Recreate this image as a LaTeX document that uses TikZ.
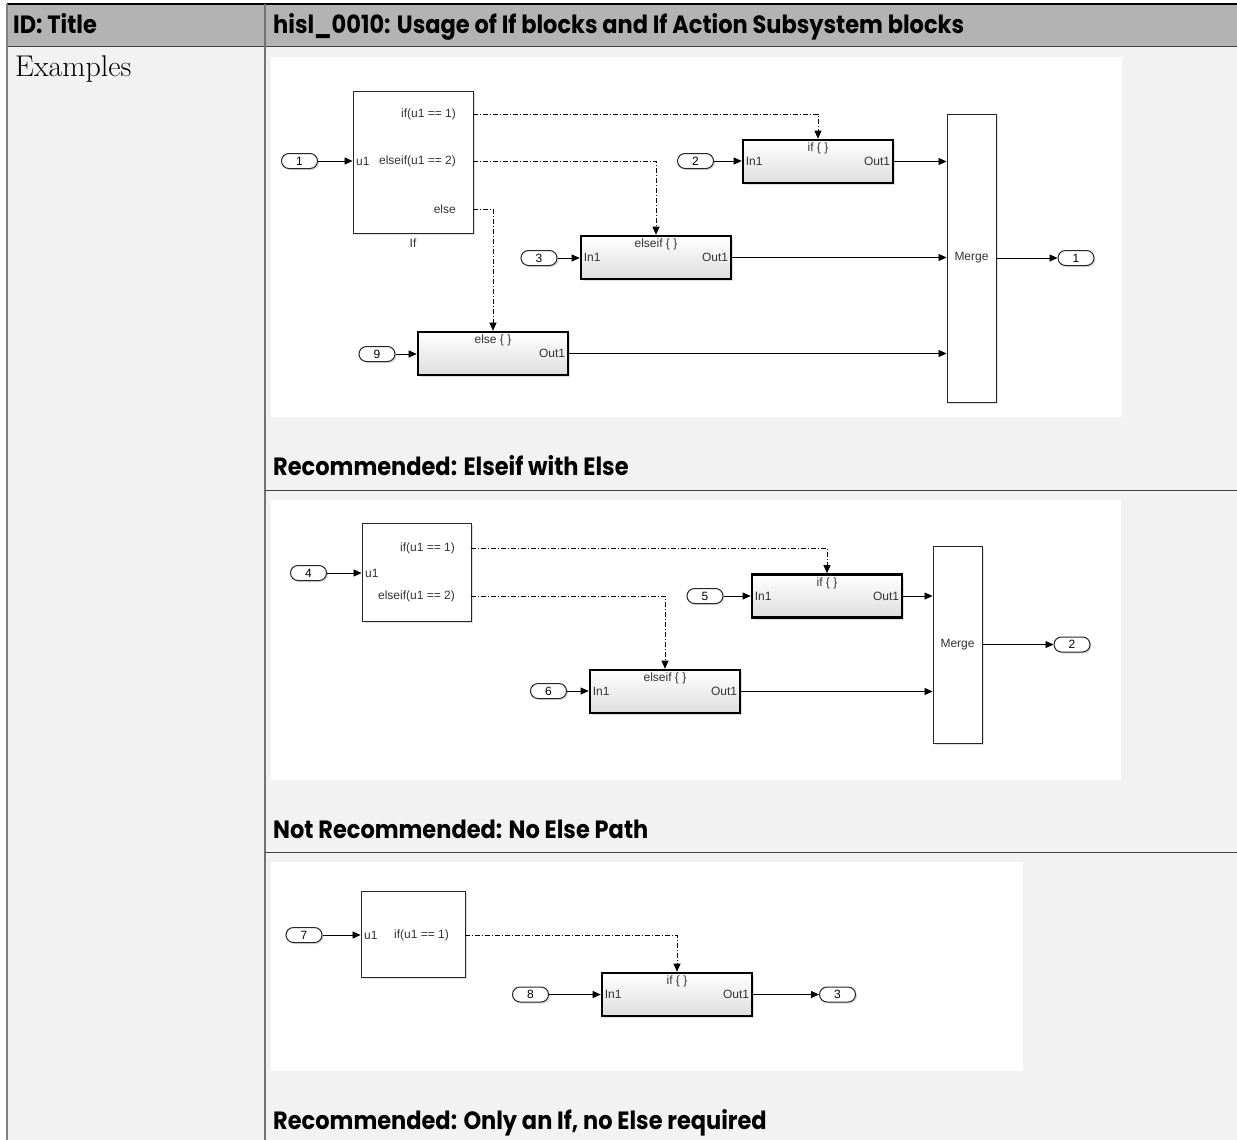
\documentclass[tikz,border=0pt]{standalone}
\usepackage{fontspec}
\usetikzlibrary{arrows.meta,shadows,positioning}
\newfontfamily\blkfont{Liberation Sans}
\newfontfamily\headfont{Poppins}
\definecolor{hdrgray}{HTML}{B3B3B3}
\definecolor{cellgray}{HTML}{F2F2F2}
\definecolor{lblgray}{HTML}{333333}
\newcommand{\capfit}[1]{\scalebox{0.9}[1]{#1}}

\tikzset{
  shade/.style={drop shadow={shadow xshift=2pt, shadow yshift=-2pt, opacity=0.25}},
  blk/.style={draw=black!85, line width=0.9pt, fill=white, inner sep=0pt, shade},
  subsys/.style={draw=black, line width=2.6pt, top color=white, bottom color=black!13,
    inner sep=0pt, minimum width=150pt, minimum height=43pt, shade},
  portoval/.style={draw=black!85, line width=1pt, rounded corners=7.5pt, fill=white,
    minimum width=36pt, minimum height=15pt, inner sep=0pt,
    font=\blkfont\fontsize{12}{13}\selectfont,
    drop shadow={shadow xshift=1.5pt, shadow yshift=-1.5pt, opacity=0.3}},
  lbl/.style={font=\blkfont\fontsize{12}{13}\selectfont, text=lblgray, inner sep=1pt},
  sig/.style={line width=0.8pt, -{Triangle[length=8pt,width=7pt]}},
  act/.style={line width=0.8pt, dash pattern=on 5pt off 2pt on 1pt off 2pt,
    -{Triangle[length=8pt,width=7pt]}},
  caption/.style={font=\headfont\bfseries\fontsize{25}{28}\selectfont, anchor=base west, inner sep=0pt},
}

\begin{document}
\begin{tikzpicture}[x=1pt,y=-1pt]
  \useasboundingbox (0,0) rectangle (1237,1140);
  % table
  \fill[cellgray] (7,4) rectangle (1237,1140);
  \fill[hdrgray] (7,4) rectangle (1237,47);
  \fill[white] (271,57) rectangle (1122,417);
  \fill[white] (271,500) rectangle (1121,780);
  \fill[white] (271,862) rectangle (1023,1071);
  \draw[line width=1.5pt] (7,4) -- (1237,4);
  \draw[line width=1pt, black!75] (7,47) -- (1237,47);
  \draw[line width=1.5pt, black!50] (7,4) -- (7,1140);
  \draw[line width=1.2pt, black!55] (265,4) -- (265,1140);
  \draw[line width=1pt, black!75] (265,490) -- (1237,490);
  \draw[line width=1pt, black!75] (265,852) -- (1237,852);

  \node[caption] (hdrId) at (13,34) {\capfit{ID: Title}};
  \node[caption] (hdrTitle) at (273,34)
    {\capfit{hisl\_0010: Usage of If blocks and If Action Subsystem blocks}};
  \node[font=\fontsize{30}{34}\selectfont, anchor=base west, inner sep=0pt] (examples) at (15,77) {Examples};

  % ---- Recommended: Elseif with Else
  \node[blk, minimum width=120pt, minimum height=142pt] (ifA) at (413,162) {};
  \node[lbl, anchor=east] (ifA-c1) at (457,114) {if(u1 == 1)};
  \node[lbl, anchor=east] (ifA-c2) at (457,161) {elseif(u1 == 2)};
  \node[lbl, anchor=east] (ifA-c3) at (457,209) {else};
  \node[lbl, anchor=west] (ifA-u1) at (355,161) {u1};
  \node[lbl] (ifA-name) at (413,243) {If};

  \node[subsys] (sysA1) at (818,161.5) {};
  \node[subsys] (sysA2) at (656,257.5) {};
  \node[subsys] (sysA3) at (493,353.5) {};
  \node[lbl] (sysA1-t) at ([yshift=-10pt]sysA1.north) {if \{ \}};
  \node[lbl, anchor=west] (sysA1-in) at ([xshift=3pt]sysA1.west) {In1};
  \node[lbl, anchor=east] (sysA1-out) at ([xshift=-3pt]sysA1.east) {Out1};
  \node[lbl] (sysA2-t) at ([yshift=-10pt]sysA2.north) {elseif \{ \}};
  \node[lbl, anchor=west] (sysA2-in) at ([xshift=3pt]sysA2.west) {In1};
  \node[lbl, anchor=east] (sysA2-out) at ([xshift=-3pt]sysA2.east) {Out1};
  \node[lbl] (sysA3-t) at ([yshift=-10pt]sysA3.north) {else \{ \}};
  \node[lbl, anchor=east] (sysA3-out) at ([xshift=-3pt]sysA3.east) {Out1};

  \node[blk, minimum width=49pt, minimum height=288pt] (mergeA) at (971.5,258) {};
  \node[lbl] (mergeA-t) at (mergeA) {Merge};

  \node[portoval] (in1) at (299.5,161) {1};
  \node[portoval] (in2) at (695.5,161) {2};
  \node[portoval] (in3) at (539,258) {3};
  \node[portoval] (in9) at (377,354) {9};
  \node[portoval] (out1) at (1076,258) {1};

  \draw[sig] (in1) -- (in1 -| ifA.west);
  \draw[sig] (in2) -- (in2 -| sysA1.west);
  \draw[sig] (in3) -- (in3 -| sysA2.west);
  \draw[sig] (in9) -- (in9 -| sysA3.west);
  \draw[sig] (sysA1.east) -- (sysA1.east -| mergeA.west);
  \draw[sig] (sysA2.east) -- (sysA2.east -| mergeA.west);
  \draw[sig] (sysA3.east) -- (sysA3.east -| mergeA.west);
  \draw[sig] (mergeA.east) -- (out1);
  \draw[act] (ifA.east |- ifA-c1) -| (sysA1.north);
  \draw[act] (ifA.east |- ifA-c2) -| (sysA2.north);
  \draw[act] (ifA.east |- ifA-c3) -| (sysA3.north);

  \node[caption] (capA) at (273,475) {\capfit{Recommended: Elseif with Else}};

  % ---- Not Recommended: No Else Path
  \node[blk, minimum width=109pt, minimum height=98pt] (ifB) at (416.5,572) {};
  \node[lbl, anchor=east] (ifB-c1) at (456,548) {if(u1 == 1)};
  \node[lbl, anchor=east] (ifB-c2) at (456,596) {elseif(u1 == 2)};
  \node[lbl, anchor=west] (ifB-u1) at (364,573) {u1};

  \node[subsys] (sysB1) at (827,596) {};
  \node[subsys] (sysB2) at (665,691.5) {};
  \node[lbl] (sysB1-t) at ([yshift=-10pt]sysB1.north) {if \{ \}};
  \node[lbl, anchor=west] (sysB1-in) at ([xshift=3pt]sysB1.west) {In1};
  \node[lbl, anchor=east] (sysB1-out) at ([xshift=-3pt]sysB1.east) {Out1};
  \node[lbl] (sysB2-t) at ([yshift=-10pt]sysB2.north) {elseif \{ \}};
  \node[lbl, anchor=west] (sysB2-in) at ([xshift=3pt]sysB2.west) {In1};
  \node[lbl, anchor=east] (sysB2-out) at ([xshift=-3pt]sysB2.east) {Out1};

  \node[blk, minimum width=49pt, minimum height=197pt] (mergeB) at (957.5,644.5) {};
  \node[lbl] (mergeB-t) at (mergeB) {Merge};

  \node[portoval] (in4) at (308.5,573) {4};
  \node[portoval] (in5) at (705,596) {5};
  \node[portoval] (in6) at (548.5,691) {6};
  \node[portoval] (out2) at (1072,644.5) {2};

  \draw[sig] (in4) -- (in4 -| ifB.west);
  \draw[sig] (in5) -- (in5 -| sysB1.west);
  \draw[sig] (in6) -- (in6 -| sysB2.west);
  \draw[sig] (sysB1.east) -- (sysB1.east -| mergeB.west);
  \draw[sig] (sysB2.east) -- (sysB2.east -| mergeB.west);
  \draw[sig] (mergeB.east) -- (out2);
  \draw[act] (ifB.east |- ifB-c1) -| (sysB1.north);
  \draw[act] (ifB.east |- ifB-c2) -| (sysB2.north);

  \node[caption] (capB) at (273,838) {\capfit{Not Recommended: No Else Path}};

  % ---- Recommended: Only an If
  \node[blk, minimum width=104pt, minimum height=86pt] (ifC) at (413,934) {};
  \node[lbl, anchor=east] (ifC-c1) at (450,935) {if(u1 == 1)};
  \node[lbl, anchor=west] (ifC-u1) at (363,935) {u1};

  \node[subsys] (sysC1) at (677,994.5) {};
  \node[lbl] (sysC1-t) at ([yshift=-10pt]sysC1.north) {if \{ \}};
  \node[lbl, anchor=west] (sysC1-in) at ([xshift=3pt]sysC1.west) {In1};
  \node[lbl, anchor=east] (sysC1-out) at ([xshift=-3pt]sysC1.east) {Out1};

  \node[portoval] (in7) at (304,935) {7};
  \node[portoval] (in8) at (530.5,994.5) {8};
  \node[portoval] (out3) at (837.5,994.5) {3};

  \draw[sig] (in7) -- (in7 -| ifC.west);
  \draw[sig] (in8) -- (in8 -| sysC1.west);
  \draw[sig] (sysC1.east) -- (out3);
  \draw[act] (ifC.east |- ifC-c1) -| (sysC1.north);

  \node[caption] (capC) at (273,1129) {\capfit{Recommended: Only an If, no Else required}};
\end{tikzpicture}
\end{document}
